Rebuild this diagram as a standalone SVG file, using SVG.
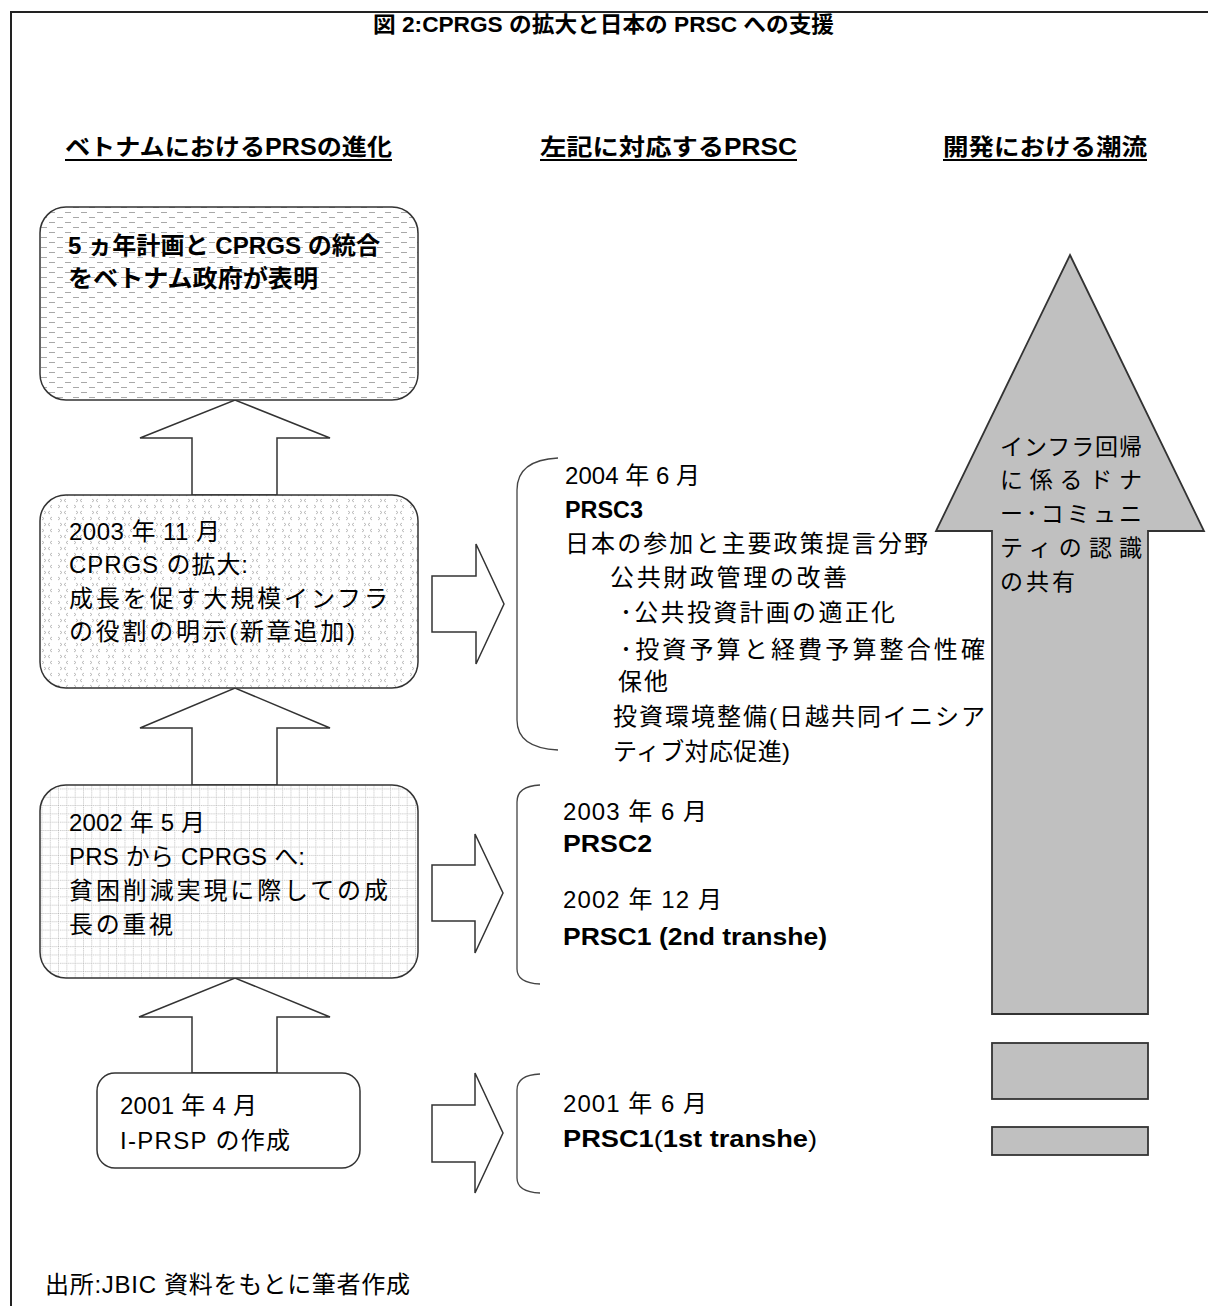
<svg xmlns="http://www.w3.org/2000/svg" width="1208" height="1306" viewBox="0 0 1208 1306">
<style>
text{font-family:"Liberation Sans","Noto Sans CJK JP",sans-serif;fill:#000}
.t24{font-size:24px}
.t23{font-size:23px}
.b{font-weight:bold}
.n{font-weight:normal}
.box{stroke:#333;stroke-width:1.5}
.arr{fill:#fff;stroke:#333;stroke-width:1.5;stroke-linejoin:miter}
.brace{fill:none;stroke:#444;stroke-width:1.3}
.gray{fill:#c0c0c0;stroke:#333;stroke-width:1.8}
.ul{stroke:#000;stroke-width:2}
</style>
<defs>
<pattern id="pdash" width="16" height="10" patternUnits="userSpaceOnUse">
<rect width="16" height="10" fill="#fff"/>
<path d="M1 2.5H7M9 7.5H15" stroke="#a8a8a8" stroke-width="1"/>
</pattern>
<pattern id="pchev" width="16" height="12" patternUnits="userSpaceOnUse">
<rect width="16" height="12" fill="#fff"/>
<path d="M4 1L2 2.5L4 4M10 1L12 2.5L10 4M12 7L14 8.5L12 10M2 7L0 8.5L2 10" stroke="#aaa" stroke-width="0.8" fill="none"/>
</pattern>
<pattern id="pgrid" width="8.3" height="8.3" patternUnits="userSpaceOnUse">
<rect width="8.3" height="8.3" fill="#fff"/>
<path d="M0 0.5H8.3M0.5 0V8.3" stroke="#b0b0b0" stroke-width="0.8" stroke-dasharray="1 1"/>
</pattern>
</defs>
<rect width="1208" height="1306" fill="#fff"/>
<rect x="11" y="12" width="1220" height="1320" fill="none" stroke="#222" stroke-width="2"/>

<g id="title">
<text x="373" y="32" class="b" font-size="22" textLength="461" lengthAdjust="spacingAndGlyphs">図 2:CPRGS の拡大と日本の PRSC への支援</text>
</g>
<g id="headings">
<text x="65" y="155" class="b" font-size="23" textLength="327" lengthAdjust="spacingAndGlyphs">ベトナムにおけるPRSの進化</text>
<line class="ul" x1="65" y1="160" x2="392" y2="160"/>
<text x="540" y="155" class="b" font-size="23" textLength="257" lengthAdjust="spacingAndGlyphs">左記に対応するPRSC</text>
<line class="ul" x1="540" y1="160" x2="797" y2="160"/>
<text x="943" y="155" class="b" font-size="23" textLength="204" lengthAdjust="spacingAndGlyphs">開発における潮流</text>
<line class="ul" x1="943" y1="160" x2="1147" y2="160"/>
</g>

<g id="connectors">
<polygon class="arr" points="192,495 192,438 140,438 235,400 330,438 277,438 277,495"/>
<polygon class="arr" points="192,785 192,728 140,728 235,688 330,728 277,728 277,785"/>
<polygon class="arr" points="192,1073 192,1017 139,1017 235,978 330,1017 277,1017 277,1073"/>
<polygon class="arr" points="432,576 476,576 476,544 504,604 476,664 476,632 432,632"/>
<polygon class="arr" points="432,865 475,865 475,834 503,893 475,953 475,921 432,921"/>
<polygon class="arr" points="432,1105 475,1105 475,1073 503,1133 475,1193 475,1162 432,1162"/>
<path class="brace" d="M558 458Q517 460 517 490L517 720Q517 748 558 750"/>
<path class="brace" d="M540 785Q517 786 517 802L517 969Q517 983 540 984"/>
<path class="brace" d="M540 1074Q517 1075 517 1090L517 1178Q517 1192 540 1193"/>
</g>

<g id="n2005">
<rect class="box" x="40" y="207" width="378" height="193" rx="26" fill="url(#pdash)"/>
<text class="t24 b" x="68" y="254" textLength="312" lengthAdjust="spacingAndGlyphs">5 ヵ年計画と CPRGS の統合</text>
<text class="t24 b" x="68" y="287" textLength="250" lengthAdjust="spacingAndGlyphs">をベトナム政府が表明</text>
</g>

<g id="n2003">
<rect class="box" x="40" y="495" width="378" height="193" rx="26" fill="url(#pchev)"/>
<text class="t24" x="69" y="540" textLength="151">2003 年 11 月</text>
<text class="t24" x="69" y="573" textLength="179">CPRGS の拡大:</text>
<text class="t24" x="69" y="607" textLength="319">成長を促す大規模インフラ</text>
<text class="t24" x="69" y="640" textLength="286">の役割の明示(新章追加)</text>
</g>

<g id="n2002">
<rect class="box" x="40" y="785" width="378" height="193" rx="26" fill="url(#pgrid)"/>
<text class="t24" x="69" y="831" textLength="136">2002 年 5 月</text>
<text class="t24" x="69" y="865" textLength="236">PRS から CPRGS へ:</text>
<text class="t24" x="69" y="899" textLength="319">貧困削減実現に際しての成</text>
<text class="t24" x="69" y="933" textLength="104">長の重視</text>
</g>

<g id="n2001">
<rect class="box" x="97" y="1073" width="263" height="95" rx="18" fill="#fff"/>
<text class="t24" x="120" y="1114" textLength="137">2001 年 4 月</text>
<text class="t24" x="120" y="1149" textLength="170">I-PRSP の作成</text>
</g>

<g id="prsc3">
<text class="t24" x="565" y="484" textLength="135">2004 年 6 月</text>
<text class="t24 b" x="565" y="518" textLength="78" lengthAdjust="spacingAndGlyphs">PRSC3</text>
<text class="t24" x="565" y="552" textLength="363">日本の参加と主要政策提言分野</text>
<text class="t24" x="610" y="586" textLength="237">公共財政管理の改善</text>
<text class="t24" x="620" y="621" textLength="275">･公共投資計画の適正化</text>
<text class="t24" x="620" y="658" textLength="365">･投資予算と経費予算整合性確</text>
<text class="t24" x="618" y="690" textLength="50">保他</text>
<text class="t24" x="613" y="725" textLength="372">投資環境整備(日越共同イニシア</text>
<text class="t24" x="613" y="760" textLength="177">ティブ対応促進)</text>
</g>

<g id="prsc2">
<text class="t24" x="563" y="820" textLength="144">2003 年 6 月</text>
<text class="t24 b" x="563" y="852" textLength="89" lengthAdjust="spacingAndGlyphs">PRSC2</text>
<text class="t24" x="563" y="908" textLength="159">2002 年 12 月</text>
<text class="t24 b" x="563" y="945" textLength="264" lengthAdjust="spacingAndGlyphs">PRSC1 (2nd transhe)</text>
</g>

<g id="prsc1">
<text class="t24" x="563" y="1112" textLength="144">2001 年 6 月</text>
<text class="t24 b" x="563" y="1147" textLength="254" lengthAdjust="spacingAndGlyphs">PRSC1<tspan class="n">(</tspan>1st transhe<tspan class="n">)</tspan></text>
</g>

<g id="trend">
<path class="gray" d="M1070 255L1204 531L1148 531L1148 1014L992 1014L992 531L936 531Z"/>
<text class="t23" x="1000" y="455" textLength="142">インフラ回帰</text>
<text class="t23" x="1000" y="488" textLength="142">に係るドナ</text>
<text class="t23" x="1000" y="522" textLength="142">ー･コミュニ</text>
<text class="t23" x="1000" y="556" textLength="142">ティの認識</text>
<text class="t23" x="1000" y="590" textLength="75">の共有</text>
<rect class="gray" x="992" y="1043" width="156" height="56"/>
<rect class="gray" x="992" y="1127" width="156" height="28"/>
</g>

<g id="source">
<text class="t24" x="45" y="1293" textLength="365">出所:JBIC 資料をもとに筆者作成</text>
</g>
</svg>
